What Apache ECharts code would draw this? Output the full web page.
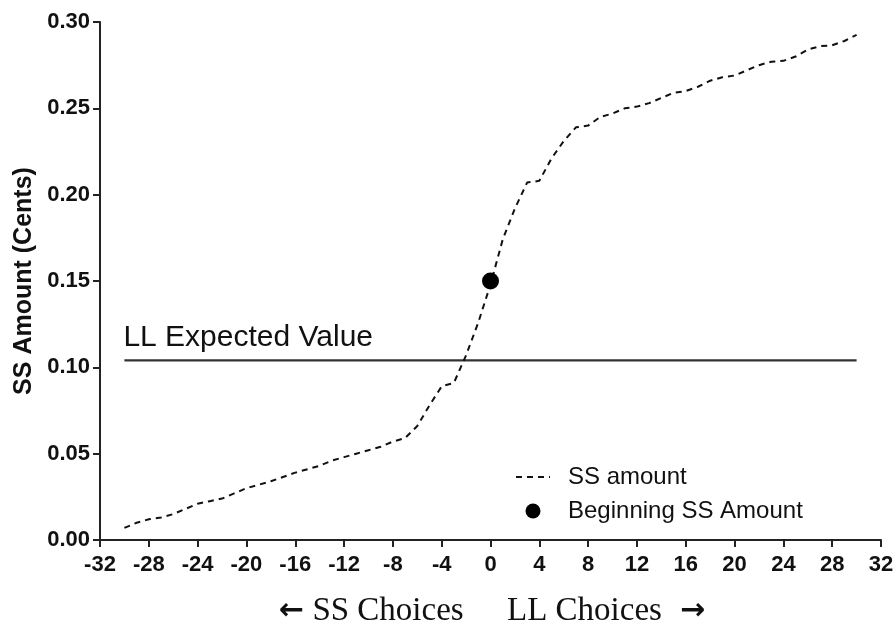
<!DOCTYPE html>
<html><head><meta charset="utf-8">
<script src="https://cdn.jsdelivr.net/npm/echarts@6/dist/echarts.min.js"></script>
<style>html,body{margin:0;padding:0;background:#fff}#c{width:895px;height:629px}</style>
</head><body><div id="c"></div>
<script>
// Choice index (negative = SS choices, positive = LL choices)
const choices = [-30,-29,-28,-27,-26,-25,-24,-23,-22,-21,-20,-19,-18,-17,-16,-15,-14,-13,-12,-11,-10,-9,-8,-7,-6,-5,-4,-3,-2,-1,0,1,2,3,4,5,6,7,8,9,10,11,12,13,14,15,16,17,18,19,20,21,22,23,24,25,26,27,28,29,30];
// SS amount (cents)
const ssAmount = [0.007,0.010,0.012,0.013,0.015,0.018,0.021,0.0225,0.024,0.027,0.030,0.032,0.034,0.0365,0.039,0.041,0.043,0.046,0.048,0.050,0.052,0.054,0.057,0.059,0.066,0.078,0.089,0.091,0.107,0.126,0.148,0.174,0.192,0.207,0.208,0.221,0.231,0.239,0.240,0.245,0.247,0.250,0.251,0.253,0.256,0.259,0.260,0.2625,0.266,0.268,0.269,0.272,0.275,0.277,0.2775,0.280,0.284,0.286,0.2865,0.289,0.2925];
const beginningSS = [[0, 0.15]];
const llExpectedValue = 0.104;
const llRange = [-30, 30];
const xTicks = {min: -32, max: 32, step: 4};
const yTicks = {min: 0, max: 0.30, step: 0.05};
const seriesNames = ['SS amount', 'Beginning SS Amount'];
const yAxisTitle = 'SS Amount (Cents)';
const llLabel = 'LL Expected Value';

const sans = '"Liberation Sans", Arial, sans-serif';
const serif = '"Liberation Serif", "Times New Roman", serif';
const arrowFont = '"DejaVu Sans", sans-serif';
const chart = echarts.init(document.getElementById('c'), null, {renderer: 'canvas'});
const axisCol = '#222';

const option = {
  backgroundColor: '#fff',
  animation: false,
  grid: {left: 100, right: 14, top: 22, bottom: 89, containLabel: false, outerBoundsMode: 'none'},
  xAxis: {
    type: 'value', min: xTicks.min, max: xTicks.max, interval: xTicks.step,
    axisLine: {show: true, onZero: false, lineStyle: {color: axisCol, width: 2}},
    axisTick: {show: true, length: 7, lineStyle: {color: axisCol, width: 2}},
    axisLabel: {margin: 14, color: '#111', fontSize: 22, fontWeight: 'bold', fontFamily: sans, showMinLabel: true, showMaxLabel: true},
    splitLine: {show: false}
  },
  yAxis: {
    type: 'value', min: yTicks.min, max: yTicks.max, interval: yTicks.step,
    name: yAxisTitle, nameLocation: 'middle', nameGap: 51,
    nameTextStyle: {fontSize: 25, fontWeight: 'bold', fontFamily: sans, color: '#111'},
    axisLine: {show: true, onZero: false, lineStyle: {color: axisCol, width: 2}},
    axisTick: {show: true, length: 7, lineStyle: {color: axisCol, width: 2}},
    axisLabel: {margin: 10, color: '#111', fontSize: 22, fontWeight: 'bold', fontFamily: sans,
      formatter: v => v.toFixed(2)},
    splitLine: {show: false}
  },
  legend: {
    data: [{name: seriesNames[0], itemStyle: {opacity: 0}}, {name: seriesNames[1], icon: 'circle'}],
    orient: 'vertical', left: 510, top: 460,
    itemWidth: 34, itemHeight: 15, itemGap: 10,
    textStyle: {fontSize: 24, fontFamily: sans, color: '#111', padding: [0, 0, 0, 13]}
  },
  series: [
    {
      name: seriesNames[0], type: 'line', data: choices.map((x, i) => [x, ssAmount[i]]),
      symbol: 'none', showSymbol: false, z: 3,
      lineStyle: {color: '#111', width: 2, type: [6, 5]},
      itemStyle: {color: '#111'}
    },
    {
      name: seriesNames[1], type: 'scatter', data: beginningSS, symbol: 'circle', symbolSize: 17, z: 4,
      itemStyle: {color: '#000', opacity: 1}
    },
    {
      name: llLabel, type: 'line', data: [[llRange[0], llExpectedValue], [llRange[1], llExpectedValue]],
      symbol: 'none', z: 2, lineStyle: {color: '#333', width: 2.2}
    }
  ]
};
chart.setOption(option);

const p = chart.convertToPixel({gridIndex: 0}, [llRange[0], llExpectedValue]);
chart.setOption({
  graphic: [
    {type: 'text', left: p[0] - 1, top: p[1] - 38, style: {text: llLabel, font: '30px ' + sans, fill: '#111'}},
    {type: 'text', left: 279, top: 595, style: {
      text: '{a|\u2190} SS Choices', font: '33px ' + serif, fill: '#111',
      rich: {a: {fontFamily: arrowFont, fontSize: 30, fontWeight: 'bold', fill: '#111'}}}},
    {type: 'text', left: 507, top: 595, style: {
      text: 'LL Choices{a|\u2192}', font: '33px ' + serif, fill: '#111',
      rich: {a: {fontFamily: arrowFont, fontSize: 30, fontWeight: 'bold', fill: '#111', padding: [0, 0, 0, 18]}}}}
  ]
});
</script>
</body></html>
